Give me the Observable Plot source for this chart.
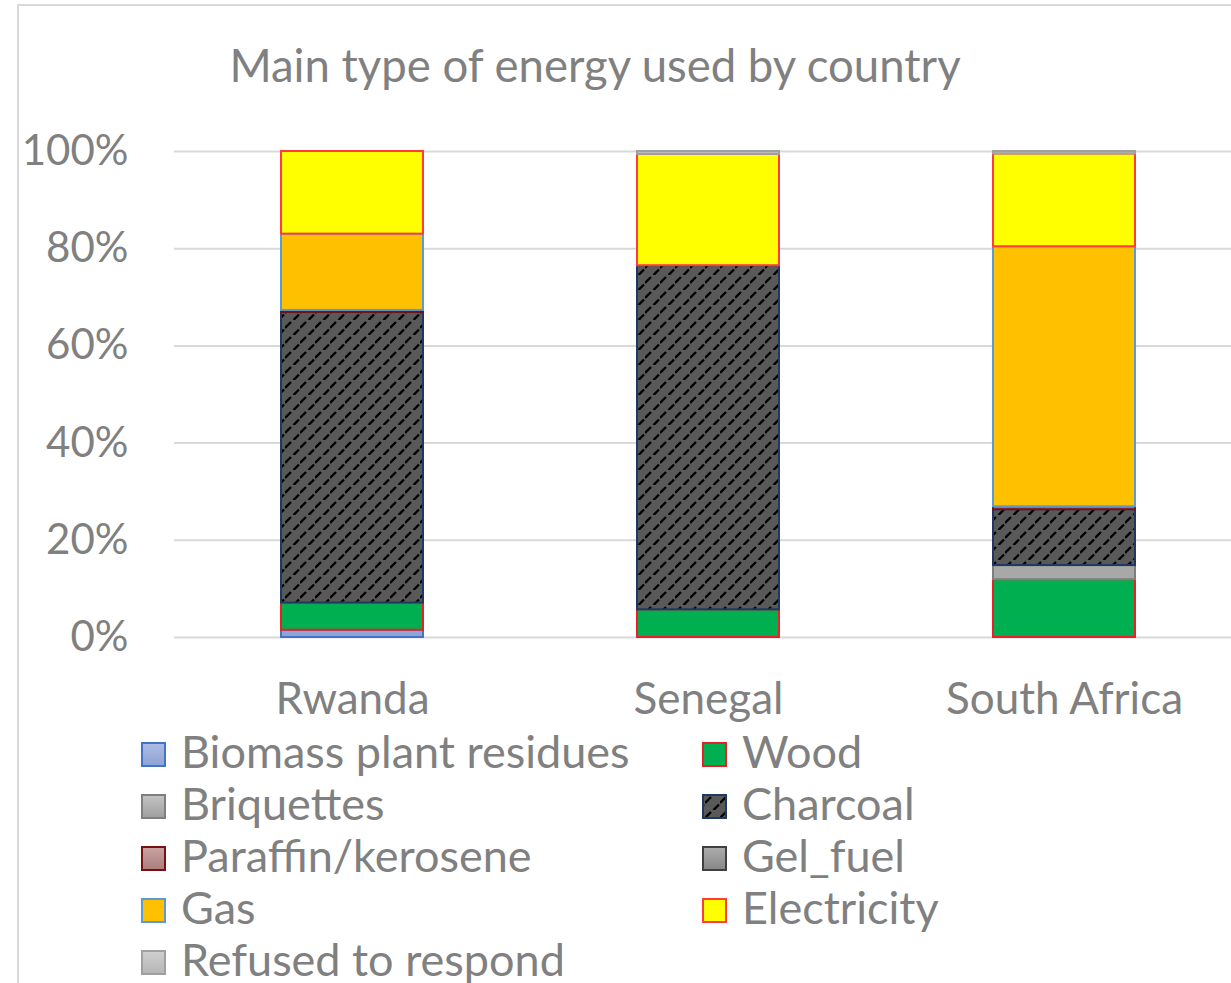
<!DOCTYPE html>
<html>
<head>
<meta charset="utf-8">
<script src="https://cdn.jsdelivr.net/npm/d3@7"></script>
<script src="https://cdn.jsdelivr.net/npm/@observablehq/plot@0.6"></script>
<style>
  html, body { margin: 0; padding: 0; background: #fff; overflow: hidden; width: 1231px; height: 983px; }
  #frame { position: absolute; left: 17px; top: 4px; width: 1400px; height: 1200px; border: 2px solid #D9D9D9; box-sizing: border-box; }
  #chart { position: absolute; left: 0; top: 110px; }
  #overlay { position: absolute; left: 0; top: 0; }
  svg text { font-family: Lato, sans-serif; }
</style>
</head>
<body>
<div id="frame"></div>
<svg width="0" height="0" style="position:absolute">
  <defs>
    <!-- dashed upward-diagonal hatch used for charcoal -->
    <pattern id="charcoalHatch" patternUnits="userSpaceOnUse" width="15" height="15">
      <rect width="15" height="15" fill="#595959"></rect>
      <path d="M0,8 L6,2 M8.5,15 L14,9.5" stroke="#000" stroke-width="2.4" fill="none"></path>
    </pattern>
    <linearGradient id="gBiomass" x1="0" y1="0" x2="0" y2="1"><stop offset="0" stop-color="#AEBDE3"/><stop offset="1" stop-color="#8CA2D6"/></linearGradient>
    <linearGradient id="gBriquettes" x1="0" y1="0" x2="0" y2="1"><stop offset="0" stop-color="#C4C4C4"/><stop offset="1" stop-color="#9E9E9E"/></linearGradient>
    <linearGradient id="gParaffin" x1="0" y1="0" x2="0" y2="1"><stop offset="0" stop-color="#C9A3A3"/><stop offset="1" stop-color="#AD7D7D"/></linearGradient>
    <linearGradient id="gGel" x1="0" y1="0" x2="0" y2="1"><stop offset="0" stop-color="#ADADAD"/><stop offset="1" stop-color="#868686"/></linearGradient>
    <linearGradient id="gRefused" x1="0" y1="0" x2="0" y2="1"><stop offset="0" stop-color="#D0D0D0"/><stop offset="1" stop-color="#B5B5B5"/></linearGradient>
  </defs>
</svg>
<svg id="overlay" width="1231" height="983"></svg>
<div id="chart"></div>
<script>
// Countries along the x axis
const countries = ["Rwanda", "Senegal", "South Africa"];

// Energy types, in stacking order (bottom to top)
const series = [
  "Biomass plant residues", "Wood", "Briquettes", "Charcoal", "Paraffin/kerosene",
  "Gel_fuel", "Gas", "Electricity", "Refused to respond"
];

// Share of households (%) per country: Rwanda, Senegal, South Africa
const biomass     = [1.5, 0, 0];
const wood        = [5.6, 5.7, 11.9];
const briquettes  = [0, 0, 2.9];
const charcoal    = [59.8, 70.8, 11.5];
const paraffin    = [0.4, 0, 0.6];
const gelFuel     = [0, 0, 0];
const gas         = [15.7, 0, 53.5];
const electricity = [17.0, 22.9, 19.1];
const refused     = [0, 0.6, 0.5];

// Y axis ticks
const yTicks = [0, 20, 40, 60, 80, 100];
const yTickLabels = ["0%", "20%", "40%", "60%", "80%", "100%"];

// Series styling
const fills = ["#8EA4D8", "#00B050", "#A8A8A8", "url(#charcoalHatch)", "#B88888", "#999999", "#FFC000", "#FFFF00", "#BFBFBF"];
const strokes = ["#4472C4", "#E8202A", "#7F7F7F", "#1F3864", "#7B1010", "#404040", "#5B9BD5", "#FF3B3B", "#A0A0A0"];
const swatchFills = ["url(#gBiomass)", "#00B050", "url(#gBriquettes)", "url(#charcoalHatch)", "url(#gParaffin)", "url(#gGel)", "#FFC000", "#FFFF00", "url(#gRefused)"];

const seriesValues = [biomass, wood, briquettes, charcoal, paraffin, gelFuel, gas, electricity, refused];
const strokeOf = new Map(series.map((s, i) => [s, strokes[i]]));

// Long-format rows; zero shares are skipped so they leave no outline
const rows = [];
countries.forEach((c, ci) => {
  series.forEach((s, si) => {
    const v = seriesValues[si][ci];
    if (v > 0) rows.push({country: c, series: s, share: v});
  });
});

const chart = Plot.plot({
  width: 1231,
  height: 627,
  marginTop: 41,
  marginBottom: 100,
  marginLeft: 174,
  marginRight: 0,
  style: {fontFamily: "Lato, sans-serif", fontSize: "44px", color: "#808080", background: "transparent"},
  x: {domain: countries, range: [174, 1243], paddingInner: 0.6, paddingOuter: 0.3, label: null},
  y: {domain: [0, 100], label: null},
  color: {domain: series, range: fills},
  marks: [
    Plot.gridY(yTicks, {stroke: "#D9D9D9", strokeOpacity: 1, strokeWidth: 2}),
    Plot.barY(rows, Plot.stackY({order: null}, {
      x: "country",
      y: "share",
      z: "series",
      fill: "series",
      stroke: {value: d => strokeOf.get(d.series), scale: null},
      strokeWidth: 2
    })),
    Plot.axisY(yTicks, {tickSize: 0, tickPadding: 46, fontSize: 42, tickFormat: (d, i) => yTickLabels[i], label: null}),
    Plot.axisX({tickSize: 0, tickPadding: 45, label: null})
  ]
});
document.getElementById("chart").appendChild(chart);

// Title and legend
const overlay = d3.select("#overlay");
overlay.append("text")
  .attr("x", 595).attr("y", 82)
  .attr("text-anchor", "middle")
  .attr("font-size", 45.5)
  .attr("fill", "#808080")
  .text("Main type of energy used by country");

const legend = overlay.append("g");
series.forEach((s, i) => {
  const col = i % 2, row = Math.floor(i / 2);
  const sx = col ? 703 : 142;
  const tx = col ? 742 : 181;
  const top = 743 + 52 * row;
  legend.append("rect")
    .attr("x", sx).attr("y", top).attr("width", 23).attr("height", 23)
    .attr("fill", swatchFills[i]).attr("stroke", strokes[i]).attr("stroke-width", 2);
  legend.append("text")
    .attr("x", tx).attr("y", top + 25)
    .attr("font-size", 45)
    .attr("fill", "#808080")
    .text(s);
});
</script>
</body>
</html>
